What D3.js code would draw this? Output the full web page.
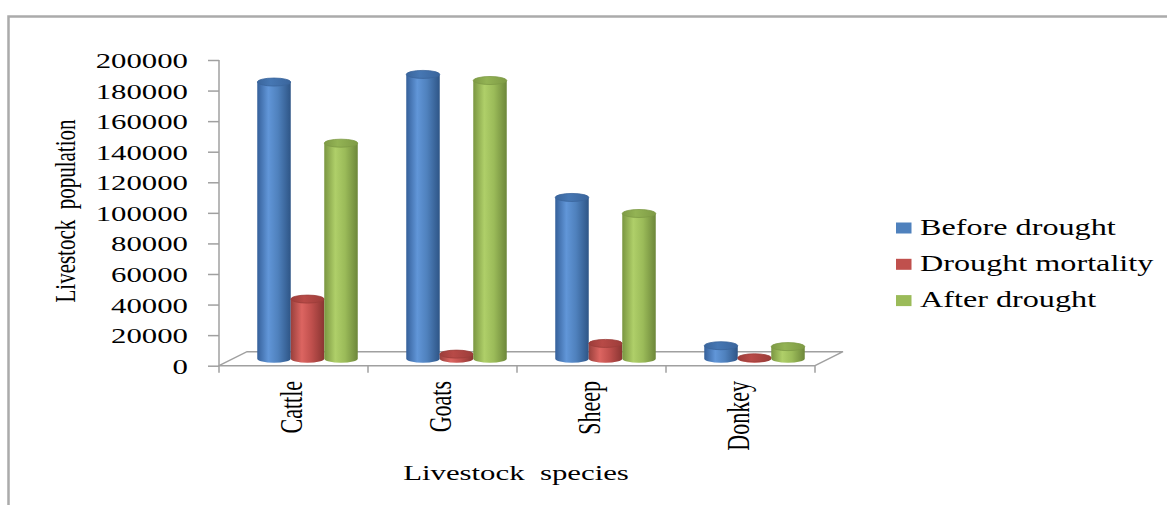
<!DOCTYPE html>
<html>
<head>
<meta charset="utf-8">
<script src="https://cdn.jsdelivr.net/npm/d3@7"></script>
<style>
  html, body { margin: 0; padding: 0; background: #fff; }
  svg { display: block; }
  text { font-family: "Liberation Serif", "Times New Roman", serif; fill: #000; }
</style>
</head>
<body>
<svg id="chart" width="1167" height="505"></svg>
<script>
// Livestock population before and after the drought, by species
const categories = ["Cattle", "Goats", "Sheep", "Donkey"];
const seriesNames = ["Before drought", "Drought mortality", "After drought"];
const beforeDrought = [181000, 186000, 105500, 8500];
const droughtMortality = [39000, 3000, 10000, 600];
const afterDrought = [141000, 182000, 95000, 7900];
const yTickValues = [0, 20000, 40000, 60000, 80000, 100000, 120000, 140000, 160000, 180000, 200000];

const seriesValues = [beforeDrought, droughtMortality, afterDrought];
const palette = [
  { edge: "#35609a", light: "#6196d8", mid: "#4f81bd", dark: "#2e5586", top: "#4677b3", rim: "#3a659c" },
  { edge: "#99403c", light: "#dc6561", mid: "#c0504d", dark: "#8a3532", top: "#b84a47", rim: "#9c3d3a" },
  { edge: "#7a9641", light: "#afcf69", mid: "#9bbb59", dark: "#6d873a", top: "#93b354", rim: "#7e9a45" }
];

const svg = d3.select("#chart");
const STRETCH = 1.4;          // text is drawn horizontally widened
const depthX = 28, depthY = -14;   // oblique depth of the floor
const axisColor = "#a0a0a0";

// outer frame
svg.append("path")
  .attr("d", "M8.5,505V16.5H1167")
  .attr("fill", "none").attr("stroke", "#ababab").attr("stroke-width", 2.5);

const x = d3.scaleBand().domain(categories).range([219, 815]);
const y = d3.scaleLinear().domain([0, 200000]).range([365.7, 60]);
const sub = d3.scaleBand().domain(seriesNames).range([-50.25, 50.25]);

// gradients for the cylinder bodies
const defs = svg.append("defs");
palette.forEach((p, i) => {
  const g = defs.append("linearGradient").attr("id", "cyl" + i)
    .attr("x1", 0).attr("x2", 1).attr("y1", 0).attr("y2", 0);
  g.append("stop").attr("offset", 0).attr("stop-color", p.edge);
  g.append("stop").attr("offset", 0.33).attr("stop-color", p.light);
  g.append("stop").attr("offset", 0.62).attr("stop-color", p.mid);
  g.append("stop").attr("offset", 1).attr("stop-color", p.dark);
  const t = defs.append("linearGradient").attr("id", "cap" + i)
    .attr("x1", 0).attr("x2", 1).attr("y1", 0).attr("y2", 0);
  t.append("stop").attr("offset", 0).attr("stop-color", p.rim);
  t.append("stop").attr("offset", 0.4).attr("stop-color", p.top);
  t.append("stop").attr("offset", 1).attr("stop-color", p.rim);
});

// floor of the 3D plot
const x0 = x.range()[0], x1 = x.range()[1], yBase = y(0);
svg.append("path")
  .attr("d", d3.line()([[x0, yBase], [x0 + depthX, yBase + depthY], [x1 + depthX, yBase + depthY], [x1, yBase]]))
  .attr("fill", "none").attr("stroke", axisColor).attr("stroke-width", 1.5);

// category axis along the front edge of the floor
const xAxis = svg.append("g").attr("transform", `translate(0,${yBase})`)
  .call(d3.axisBottom(x).tickSize(0).tickFormat(""));
xAxis.select(".domain").attr("stroke", axisColor).attr("stroke-width", 1.5)
  .attr("d", `M${x0},7V0H${x1}V7`);
xAxis.selectAll(".tick").remove();
xAxis.selectAll("line.sep").data(categories.slice(1)).join("line")
  .attr("class", "sep")
  .attr("x1", d => x(d)).attr("x2", d => x(d))
  .attr("y1", 0).attr("y2", 7)
  .attr("stroke", axisColor).attr("stroke-width", 1.5);

// value axis
const yAxis = svg.append("g").attr("transform", `translate(${x0},0)`)
  .call(d3.axisLeft(y).tickValues(yTickValues).tickSize(11).tickFormat(d3.format("d")));
yAxis.select(".domain").attr("stroke", axisColor).attr("stroke-width", 1.5)
  .attr("d", `M0,${y(200000)}V${yBase}`);
yAxis.selectAll(".tick line").attr("stroke", axisColor).attr("stroke-width", 1.5);
yAxis.selectAll(".tick text")
  .attr("x", null).attr("dy", null)
  .attr("text-anchor", "end")
  .attr("transform", `translate(-31,7.5) scale(${STRETCH},1)`)
  .style("font-size", "22px").style("font-family", '"Liberation Serif", serif').attr("fill", "#000");

// cylinders
const rx = sub.bandwidth() / 2, ry = 4;
const bars = [];
categories.forEach((c, ci) => {
  seriesNames.forEach((s, si) => {
    const cx = x(c) + x.bandwidth() / 2 + depthX / 2 + sub(s) + sub.bandwidth() / 2;
    bars.push({ cx, si, v: seriesValues[si][ci],
      yb: y(0) + depthY / 2, yt: y(seriesValues[si][ci]) + depthY / 2 });
  });
});
const g = svg.append("g");
const bar = g.selectAll("g.bar").data(bars).join("g").attr("class", "bar");
bar.append("path")
  .attr("d", d => `M${d.cx - rx},${d.yt}V${d.yb}A${rx},${ry} 0 0 0 ${d.cx + rx},${d.yb}V${d.yt}Z`)
  .attr("fill", d => `url(#cyl${d.si})`);
bar.append("ellipse")
  .attr("cx", d => d.cx).attr("cy", d => d.yt)
  .attr("rx", rx).attr("ry", ry)
  .attr("fill", d => `url(#cap${d.si})`)
  .attr("stroke", d => palette[d.si].rim).attr("stroke-width", 0.8);

// category labels, rotated
svg.selectAll("text.cat").data(categories).join("text")
  .attr("class", "cat")
  .attr("text-anchor", "end")
  .attr("transform", d => `translate(${x(d) + x.bandwidth() / 2 + 8},381) scale(${STRETCH},1) rotate(-90)`)
  .style("font-size", "22px")
  .text(d => d);

// axis titles
svg.append("text")
  .attr("text-anchor", "middle")
  .attr("transform", `translate(75,211) scale(${STRETCH},1) rotate(-90)`)
  .style("font-size", "21px")
  .text("Livestock\u00a0 population");
svg.append("text")
  .attr("text-anchor", "middle")
  .attr("transform", `translate(516,480) scale(${STRETCH},1)`)
  .style("font-size", "22px")
  .text("Livestock\u00a0 species");

// legend
const legend = svg.append("g").selectAll("g").data(seriesNames).join("g")
  .attr("transform", (d, i) => `translate(896,${234.5 + i * 36.3})`);
legend.append("rect")
  .attr("x", 0).attr("y", -12).attr("width", 15.5).attr("height", 11)
  .attr("fill", (d, i) => palette[i].mid);
legend.append("text")
  .attr("transform", `translate(24,0) scale(${STRETCH},1)`)
  .style("font-size", "23px")
  .text(d => d);
</script>
</body>
</html>
